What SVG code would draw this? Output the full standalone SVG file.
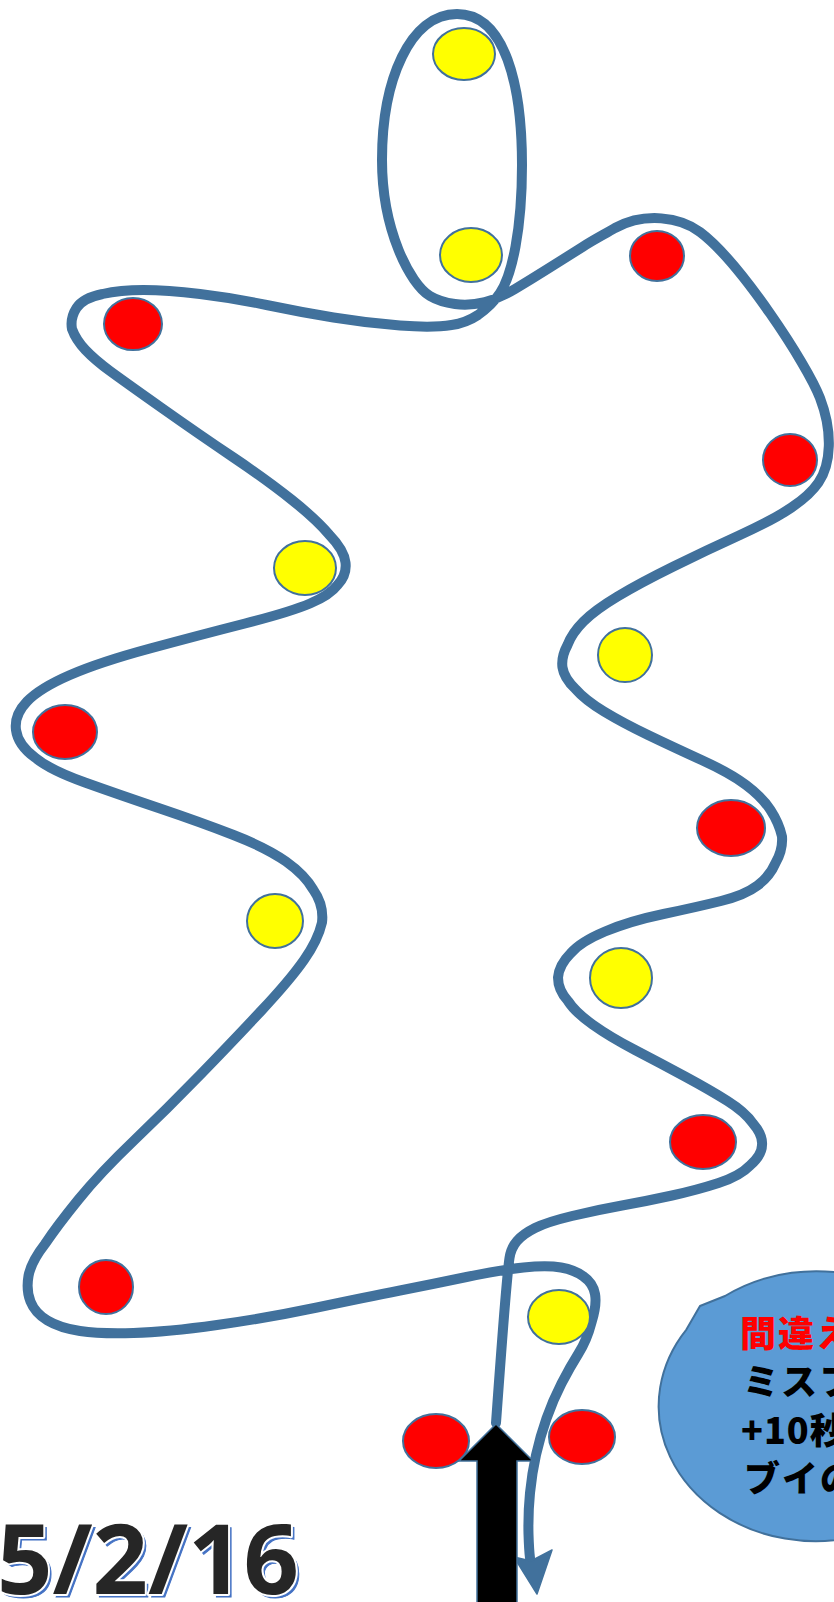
<svg xmlns="http://www.w3.org/2000/svg" width="834" height="1602" viewBox="0 0 834 1602">
<style>
.track{fill:none;stroke:#41719C;stroke-width:10;stroke-linecap:round;stroke-linejoin:round}
.red{fill:#FF0000;stroke:#41719C;stroke-width:2}
.yel{fill:#FFFF00;stroke:#41719C;stroke-width:2}
.jp{font-family:"Noto Sans CJK JP","Noto Sans CJK SC",sans-serif;font-weight:900;font-size:36px}
.date{font-family:"Open Sans","Liberation Sans",sans-serif;font-weight:700;font-size:97px}
</style>
<rect width="834" height="1602" fill="#FFFFFF"/>
<g id="connectors">
<path class="track" d="M496,1423 Q502,1340 505,1304 Q508,1268 509.5,1258 Q511,1248 517,1241 Q523,1234 535,1228 Q547,1222 572,1216 Q597,1210 622,1205.5 Q647,1201 672,1195.5 Q697,1190 718.5,1183 Q740,1176 750,1165.5 Q762,1155 762,1145 Q763,1135 753,1123.5 Q745,1112 727.5,1101 Q710,1090 685,1076.5 Q660,1063 635,1050 Q610,1037 592.5,1024.5 Q575,1012 568,1001 Q558,990 558,977.5 Q559,965 570.5,953.5 Q580,942 605,931.5 Q630,921 663.5,914 Q697,907 721,901 Q745,895 757.5,885.5 Q770,876 775.5,863 Q783,850 782,836.5 Q779,823 770.5,810 Q762,797 746,785 Q730,773 701.5,760 Q673,747 648,735 Q623,723 604,711.5 Q585,700 575.5,689 Q564,678 562.5,667.5 Q561,657 567.5,645 Q572,633 583.5,621.5 Q595,610 617.5,596.5 Q640,583 673.5,566.5 Q707,550 740,535 Q773,520 791.5,507.5 Q810,495 818.5,482.5 C831,464 833,432 820,398 C807,364 740,262 700,232 C680,217 645,212 615,228 C605,234 595,239 582.5,247 Q565,258 547.5,269 Q530,280 515,289 Q500,298 485,302 Q470,306 455,304 Q440,302 430,296 C410,284 382,230 382,160 C382,80 410,14 457,14 C505,14 522,85 522,165 C522,230 512,275 500,293 Q492,305 478,315 Q466,323 451.5,325 Q433,328 400,325.5 Q367,323 333.5,317.5 Q300,312 266.5,305 Q233,298 200,294 Q167,290 143.5,290 Q120,290 102.5,294 Q83,298 76.5,308 Q70,318 72,329 Q76,340 85.5,350 Q95,360 110,371 Q125,382 162.5,408.5 Q200,435 233.5,457.5 Q267,480 292,500 Q317,520 329.5,535 Q344,550 345.5,562.5 Q347,575 337.5,585 Q330,595 310,603.5 Q290,612 245,623.5 Q200,635 150,648.5 Q100,662 70,675 Q40,688 27,701.5 Q14,715 16,730 Q18,745 35,757.5 Q50,770 85,782.5 Q120,795 160,808.5 Q200,822 233.5,835 Q267,848 286,861.5 Q305,875 313.5,890 Q324,905 322,922.5 Q318,940 304,960 Q290,980 261.5,1010.5 Q233,1041 200,1075 Q167,1109 133.5,1141 Q100,1173 78.5,1199.5 Q57,1226 45,1244 Q31,1262 28.5,1276 Q26,1290 30.5,1301.5 Q35,1313 47.5,1320.5 Q60,1328 80,1331 Q100,1334 133.5,1333 Q167,1332 217,1325 Q267,1318 317,1307.5 Q367,1297 400,1290.5 Q433,1284 466.5,1277 Q500,1270 523.5,1267.5 Q547,1265 561,1267.5 Q575,1270 583.5,1276.5 Q593,1283 595,1294 Q597,1305 591.5,1322.5 Q587,1340 578.5,1353.5 Q570,1367 561.5,1383.5 Q553,1400 546.5,1418.5 Q540,1437 536,1455 Q532,1473 530,1493 Q528,1513 528.5,1534 Q529,1550 530,1558"/>
<polygon points="514,1557 537,1594 552,1550 531,1561" fill="#41719C" stroke="#41719C" stroke-width="1.5" stroke-linejoin="round"/>
</g>
<g id="buoy-y1"><ellipse class="yel" cx="464" cy="54" rx="31" ry="26"/></g>
<g id="buoy-y2"><ellipse class="yel" cx="471" cy="255" rx="31" ry="27"/></g>
<g id="buoy-r1"><ellipse class="red" cx="657" cy="256" rx="27" ry="25"/></g>
<g id="buoy-r2"><ellipse class="red" cx="133" cy="324" rx="29" ry="26"/></g>
<g id="buoy-r3"><ellipse class="red" cx="790" cy="460" rx="27" ry="26"/></g>
<g id="buoy-y3"><ellipse class="yel" cx="305" cy="568" rx="31" ry="27"/></g>
<g id="buoy-y4"><ellipse class="yel" cx="625" cy="655" rx="27" ry="27"/></g>
<g id="buoy-r4"><ellipse class="red" cx="65" cy="732" rx="32" ry="27"/></g>
<g id="buoy-r5"><ellipse class="red" cx="731" cy="828" rx="34" ry="28"/></g>
<g id="buoy-y5"><ellipse class="yel" cx="275" cy="921" rx="28" ry="27"/></g>
<g id="buoy-y6"><ellipse class="yel" cx="621" cy="978" rx="31" ry="30"/></g>
<g id="buoy-r6"><ellipse class="red" cx="703" cy="1142" rx="33" ry="27"/></g>
<g id="buoy-r7"><ellipse class="red" cx="106" cy="1287" rx="27" ry="27"/></g>
<g id="buoy-y7"><ellipse class="yel" cx="559" cy="1317" rx="31" ry="27"/></g>
<g id="buoy-r8"><ellipse class="red" cx="436" cy="1441" rx="33" ry="27"/></g>
<g id="buoy-r9"><ellipse class="red" cx="582" cy="1437" rx="33" ry="27"/></g>
<g id="start-arrow">
<polygon points="496,1424 533,1461 517,1461 517,1604 477,1604 477,1461 459,1461" fill="#000000" stroke="#41719C" stroke-width="1.5"/>
</g>
<g id="callout">
<path d="M700,1306 L725,1296 A157,135 0 1,1 686.4,1329.6 Z" fill="#5B9BD5" stroke="#41719C" stroke-width="2" stroke-linejoin="round"/>
<text class="jp" x="740" y="1347" fill="#FF0000" letter-spacing="2">間違え</text>
<text class="jp" x="743" y="1395" fill="#000000" letter-spacing="2">ミスフ</text>
<text class="jp" x="741" y="1444" fill="#000000" letter-spacing="1">+10秒</text>
<text class="jp" x="744" y="1492" fill="#000000" letter-spacing="2">ブイの</text>
</g>
<g id="date">
<text class="date" x="0" y="1597" fill="#4472C4" stroke="#4472C4" stroke-width="1">5/2/16</text>
<text class="date" x="-3" y="1594" fill="#262626" stroke="#FFFFFF" stroke-width="4" stroke-linejoin="round">5/2/16</text>
<text class="date" x="-3" y="1594" fill="#262626">5/2/16</text>
</g>
</svg>
